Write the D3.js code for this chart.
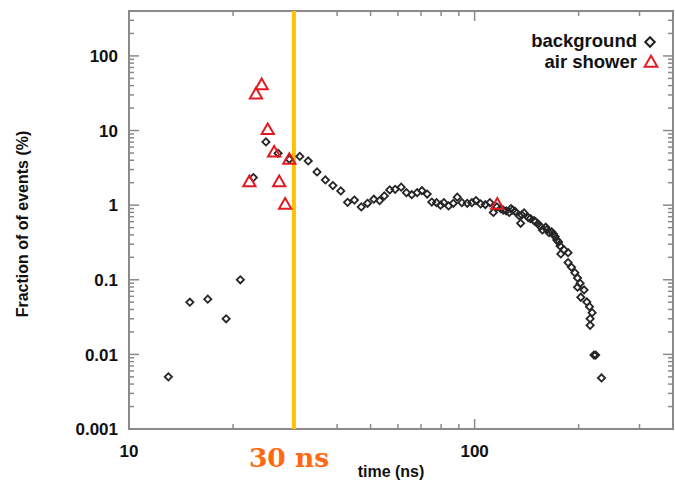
<!DOCTYPE html>
<html><head><meta charset="utf-8">
<script src="https://cdn.jsdelivr.net/npm/d3@7"></script>
<style>body{margin:0;background:#fff}svg{display:block}</style>
</head><body>
<script>
// background events: time (ns), fraction (%)
const bgTime = [13.0,15.0,16.9,19.1,21.0,22.9,24.9,27.0,29.1,31.2,33.0,35.0,37.0,38.9,41.0,42.9,44.9,47.0,49.0,51.1,53.1,54.8,56.8,58.9,61.3,63.5,65.8,68.2,70.4,72.9,75.2,77.6,79.7,81.5,84.1,86.8,89.1,91.9,95.2,98.2,100.9,104.1,107.4,110.7,113.3,119.0,123.4,127.4,131.0,134.8,139.0,135.9,142.9,148.6,152.6,157.1,160.6,164.2,169.1,172.9,176.7,177.6,181.5,186.4,186.4,190.7,195.0,198.5,202.0,198.5,207.4,202.9,211.2,215.0,218.8,215.9,215.9,221.5,224.0,232.9,116.0,121.0,126.0,129.0,137.0,145.0,150.0,155.0,162.0,167.0,171.0,175.0];
const bgFrac = [0.005,0.05,0.055,0.03,0.10,2.34,7.03,4.96,4.12,4.50,3.91,2.79,2.18,1.83,1.55,1.09,1.17,0.946,1.06,1.20,1.15,1.33,1.60,1.63,1.74,1.47,1.38,1.47,1.56,1.41,1.10,1.08,1.00,1.08,0.976,1.06,1.28,1.08,1.06,1.08,1.15,1.04,1.02,1.08,0.80,0.90,0.836,0.90,0.823,0.717,0.786,0.572,0.682,0.620,0.560,0.465,0.506,0.428,0.411,0.342,0.284,0.222,0.251,0.231,0.170,0.147,0.1245,0.1057,0.0898,0.0794,0.073,0.0583,0.0504,0.0436,0.0362,0.0301,0.0245,0.0098,0.0098,0.00483,0.95,0.86,0.80,0.86,0.74,0.66,0.60,0.52,0.47,0.44,0.38,0.32];
// air shower events
const asTime = [24.2,23.3,25.2,26.3,29.1,22.3,27.2,28.3,116.3];
const asFrac = [40,30,10,5,4,2,2,1,1];
const xTickLabels = [10,100];
const yTickLabels = ["0.001","0.01","0.1","1","10","100"];
const yTickValues = [0.001,0.01,0.1,1,10,100];
const cutTime = 30;
const legendLabels = ["background","air shower"];

const W=675,H=487;
const svg=d3.select("body").append("svg").attr("width",W).attr("height",H);
const x=d3.scaleLog().domain([10,375]).range([129,673]);
const y=d3.scaleLog().domain([0.001,400]).range([429,11]);
const axisCol="#8a8a8a";
const font="'Liberation Sans', Arial, sans-serif";

// minor/major ticks
const xMinor=[20,30,40,50,60,70,80,90,200,300];
const yMinor=[];
[0.001,0.01,0.1,1,10,100].forEach(d=>{for(let k=2;k<=9;k++){const v=d*k; if(v<=400) yMinor.push(v);}});
const g=svg.append("g").attr("stroke",axisCol).attr("stroke-width",1.5);
xTickLabels.forEach(v=>{
  g.append("line").attr("x1",x(v)).attr("x2",x(v)).attr("y1",429).attr("y2",419);
  g.append("line").attr("x1",x(v)).attr("x2",x(v)).attr("y1",11).attr("y2",21);
});
xMinor.forEach(v=>{
  g.append("line").attr("x1",x(v)).attr("x2",x(v)).attr("y1",429).attr("y2",424);
  g.append("line").attr("x1",x(v)).attr("x2",x(v)).attr("y1",11).attr("y2",16);
});
yTickValues.forEach(v=>{
  g.append("line").attr("x1",129).attr("x2",139).attr("y1",y(v)).attr("y2",y(v));
  g.append("line").attr("x1",673).attr("x2",663).attr("y1",y(v)).attr("y2",y(v));
});
yMinor.forEach(v=>{
  g.append("line").attr("x1",129).attr("x2",134).attr("y1",y(v)).attr("y2",y(v));
  g.append("line").attr("x1",673).attr("x2",668).attr("y1",y(v)).attr("y2",y(v));
});
svg.append("rect").attr("x",129).attr("y",11).attr("width",544).attr("height",418)
  .attr("fill","none").attr("stroke",axisCol).attr("stroke-width",2);

// tick labels
svg.selectAll(".yl").data(yTickValues).enter().append("text")
  .attr("x",118).attr("y",d=>y(d)).attr("dy","0.36em").attr("text-anchor","end")
  .attr("font-family",font).attr("font-weight","bold").attr("font-size",17).attr("fill","#111")
  .text((d,i)=>yTickLabels[i]);
svg.selectAll(".xl").data(xTickLabels).enter().append("text")
  .attr("x",d=>x(d)).attr("y",457).attr("text-anchor","middle")
  .attr("font-family",font).attr("font-weight","bold").attr("font-size",17).attr("fill","#111")
  .text(d=>d);
svg.append("text").attr("x",391).attr("y",477).attr("text-anchor","middle")
  .attr("font-family",font).attr("font-weight","bold").attr("font-size",16).attr("fill","#111")
  .text("time (ns)");
svg.append("text").attr("transform","translate(28,224) rotate(-90)").attr("text-anchor","middle")
  .attr("font-family",font).attr("font-weight","bold").attr("font-size",16).attr("fill","#111")
  .text("Fraction of of events (%)");

// cut line
svg.append("line").attr("x1",x(cutTime)).attr("x2",x(cutTime)).attr("y1",11).attr("y2",429)
  .attr("stroke","#ffc000").attr("stroke-width",4);
svg.append("text").attr("x",x(cutTime)-45).attr("y",467)
  .attr("font-family","'DejaVu Serif', serif").attr("font-weight","bold").attr("font-size",26.5).attr("fill","#ff6a10")
  .text("30 ns");

// points
const diamond=d3.symbol(d3.symbolSquare,26)();
const bg=bgTime.map((t,i)=>({t,v:bgFrac[i]}));
svg.append("g").selectAll("path").data(bg).enter().append("path")
  .attr("d",diamond).attr("transform",d=>`translate(${x(d.t)},${y(d.v)}) rotate(45)`)
  .attr("fill","none").attr("stroke","#262626").attr("stroke-width",1.8);
const tri=d3.symbol(d3.symbolTriangle,65)();
const as=asTime.map((t,i)=>({t,v:asFrac[i]}));
svg.append("g").selectAll("path").data(as).enter().append("path")
  .attr("d",tri).attr("transform",d=>`translate(${x(d.t)},${y(d.v)})`)
  .attr("fill","none").attr("stroke","#e21b23").attr("stroke-width",2);

// legend
svg.append("text").attr("x",637).attr("y",47).attr("text-anchor","end")
  .attr("font-family",font).attr("font-weight","bold").attr("font-size",18.5).attr("fill","#111").text(legendLabels[0]);
svg.append("text").attr("x",637).attr("y",68).attr("text-anchor","end")
  .attr("font-family",font).attr("font-weight","bold").attr("font-size",18.5).attr("fill","#111").text(legendLabels[1]);
svg.append("path").attr("d",d3.symbol(d3.symbolSquare,45)()).attr("transform","translate(650,42) rotate(45)")
  .attr("fill","none").attr("stroke","#222").attr("stroke-width",2);
svg.append("path").attr("d",d3.symbol(d3.symbolTriangle,70)()).attr("transform","translate(651,63)")
  .attr("fill","none").attr("stroke","#e21b23").attr("stroke-width",2);
</script>
</body></html>
